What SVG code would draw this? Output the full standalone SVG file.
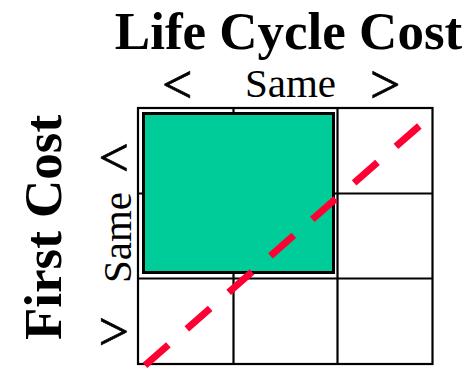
<svg xmlns="http://www.w3.org/2000/svg" width="469" height="369" viewBox="0 0 469 369">
<style>
.t{font-family:"Liberation Serif","Times New Roman",serif;fill:#000}
.b{font-weight:bold;font-size:53px}
.r{font-size:41px}
.s{font-size:54px;stroke:#000;stroke-width:0.7}
.g{stroke:#000;stroke-width:2.2;fill:none}
</style>
<rect width="469" height="369" fill="#fff"/>
<g id="title-lcc"><text class="t b" x="288.5" y="49" text-anchor="middle">Life Cycle Cost</text></g>
<g id="title-fc"><text class="t b" transform="translate(61,227.5) rotate(-90)" text-anchor="middle">First Cost</text></g>
<g id="col-labels">
<text class="t s" x="162" y="103">&lt;</text>
<text class="t r" x="290.5" y="97" text-anchor="middle">Same</text>
<text class="t s" x="370" y="103">&gt;</text>
</g>
<g id="row-labels">
<text class="t s" x="98.5" y="175.5">&lt;</text>
<text class="t r" transform="translate(131,237.5) rotate(-90)" text-anchor="middle">Same</text>
<text class="t s" x="98.5" y="349.6">&gt;</text>
</g>
<g id="grid">
<rect class="g" x="138" y="108" width="294.5" height="256"/>
<line class="g" x1="233.5" y1="108" x2="233.5" y2="364"/>
<line class="g" x1="337.5" y1="108" x2="337.5" y2="364"/>
<line class="g" x1="138" y1="193.5" x2="432.5" y2="193.5"/>
<line class="g" x1="138" y1="278.5" x2="432.5" y2="278.5"/>
</g>
<g id="region"><rect x="143.5" y="113.5" width="190" height="159" fill="#00CC99" stroke="#000" stroke-width="3"/></g>
<g id="connectors">
<line x1="419.3" y1="126" x2="110" y2="395.8" stroke="#FF0033" stroke-width="7" stroke-dasharray="31 24.5"/>
</g>
</svg>
